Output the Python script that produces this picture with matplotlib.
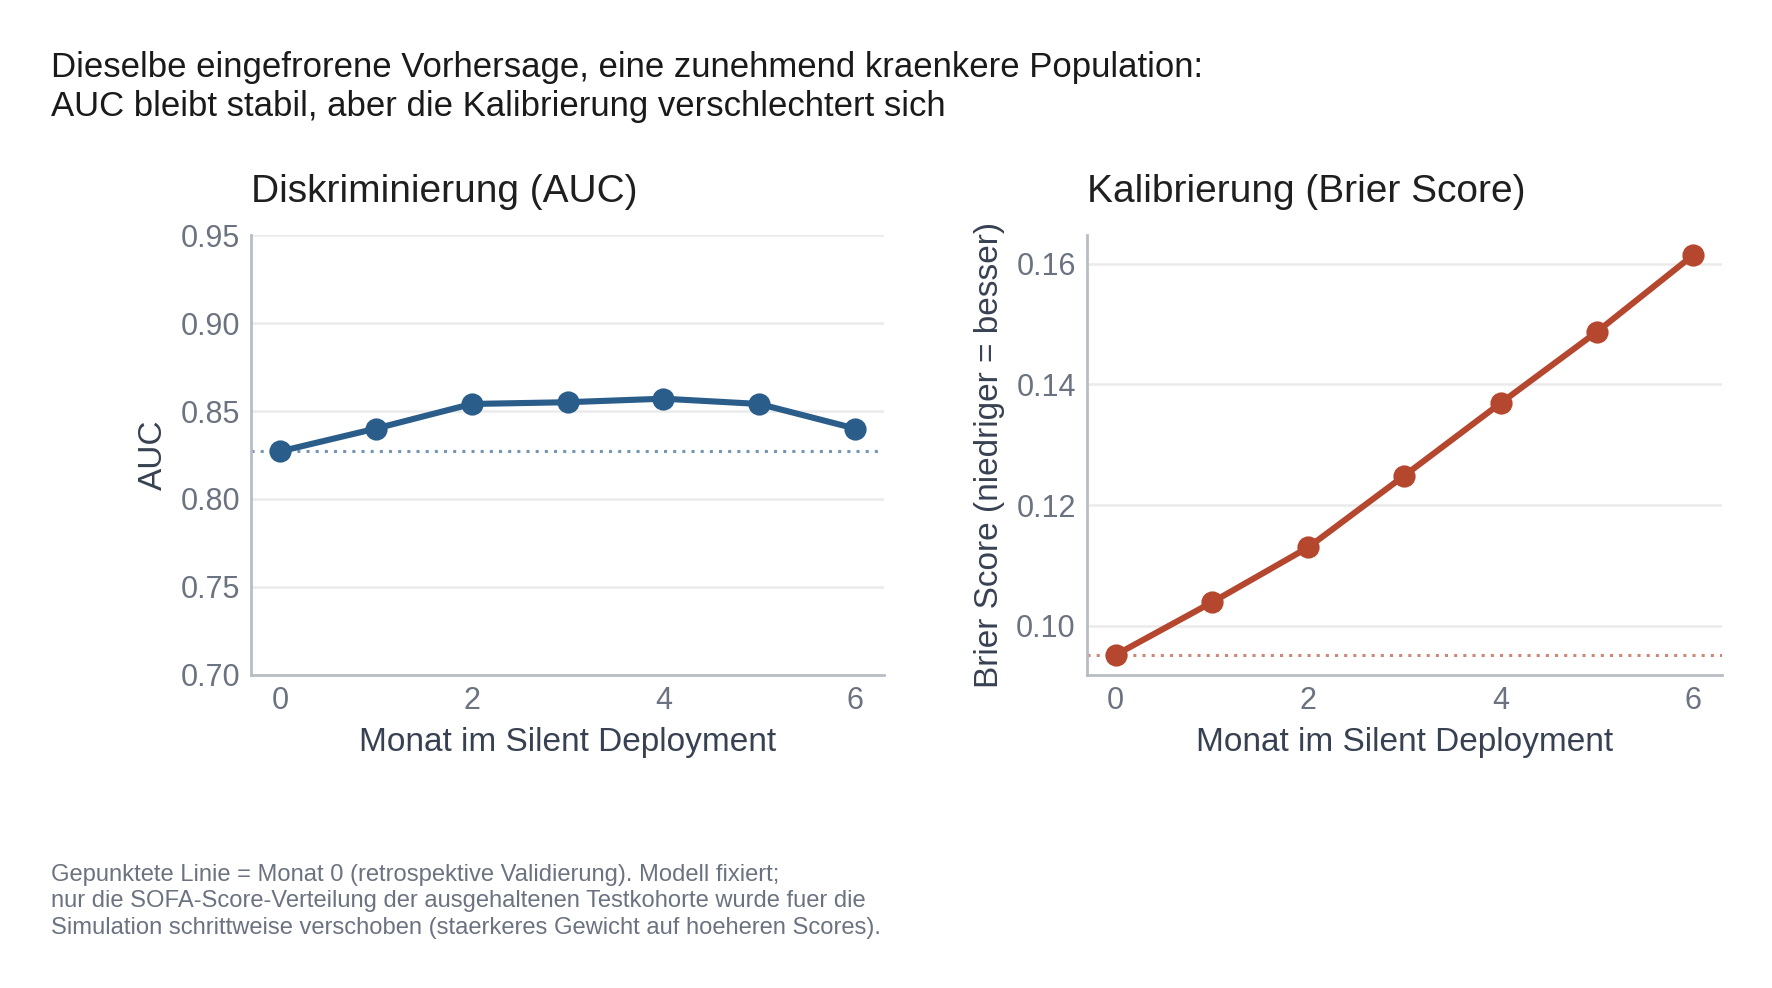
"""
Silent Deployment: AUC vs. Brier Score ueber die Monate
"""

import matplotlib
matplotlib.use("Agg")
import matplotlib.pyplot as plt

# Daten
monate = [0, 1, 2, 3, 4, 5, 6]
auc = [0.827, 0.840, 0.854, 0.855, 0.857, 0.854, 0.840]
brier = [0.0952, 0.1039, 0.1130, 0.1249, 0.1369, 0.1487, 0.1614]

titel = ("Dieselbe eingefrorene Vorhersage, eine zunehmend kraenkere Population:\n"
         "AUC bleibt stabil, aber die Kalibrierung verschlechtert sich")
fussnote = ("Gepunktete Linie = Monat 0 (retrospektive Validierung). Modell fixiert;\n"
            "nur die SOFA-Score-Verteilung der ausgehaltenen Testkohorte wurde fuer die\n"
            "Simulation schrittweise verschoben (staerkeres Gewicht auf hoeheren Scores).")

BLAU = "#2b5d8a"
ROT = "#b5472e"
TICK_GRAU = "#6b7280"
LABEL_GRAU = "#374151"
SPINE_GRAU = "#b8bcc4"
GRID_GRAU = "#ebebeb"

plt.rcParams["font.family"] = ["Liberation Sans", "DejaVu Sans"]

fig = plt.figure(figsize=(8.86, 4.94), dpi=200)
ax1 = fig.add_axes([0.1417, 0.317, 0.3572, 0.445])
ax2 = fig.add_axes([0.6134, 0.317, 0.3584, 0.445])


def style_axes(ax):
    for s in ("top", "right"):
        ax.spines[s].set_visible(False)
    for s in ("left", "bottom"):
        ax.spines[s].set_color(SPINE_GRAU)
        ax.spines[s].set_linewidth(1.0)
    ax.tick_params(length=0, labelsize=11, labelcolor=TICK_GRAU, pad=4)
    ax.yaxis.grid(True, color=GRID_GRAU, linewidth=0.9)
    ax.set_axisbelow(True)
    ax.set_xticks([0, 2, 4, 6])
    ax.set_xlabel("Monat im Silent Deployment", fontsize=12, color=LABEL_GRAU, labelpad=4)


# Links: AUC
ax1.plot(monate, auc, color=BLAU, linewidth=2.2, marker="o", markersize=7, zorder=3)
ax1.axhline(auc[0], color=BLAU, alpha=0.65, linewidth=1.1, linestyle=(0, (1, 2)), zorder=2)
ax1.set_ylim(0.70, 0.95)
ax1.set_yticks([0.70, 0.75, 0.80, 0.85, 0.90, 0.95])
ax1.set_yticklabels([f"{v:.2f}" for v in [0.70, 0.75, 0.80, 0.85, 0.90, 0.95]])
ax1.set_ylabel("AUC", fontsize=12, color=LABEL_GRAU, labelpad=4)
ax1.set_title("Diskriminierung (AUC)", loc="left", fontsize=14, color="#1f1f1f", pad=12)
style_axes(ax1)

# Rechts: Brier Score
ax2.plot(monate, brier, color=ROT, linewidth=2.2, marker="o", markersize=7, zorder=3)
ax2.axhline(brier[0], color=ROT, alpha=0.65, linewidth=1.1, linestyle=(0, (1, 2)), zorder=2)
ax2.set_yticks([0.10, 0.12, 0.14, 0.16])
ax2.set_yticklabels([f"{v:.2f}" for v in [0.10, 0.12, 0.14, 0.16]])
ax2.set_ylabel("Brier Score (niedriger = besser)", fontsize=12, color=LABEL_GRAU, labelpad=4)
ax2.set_title("Kalibrierung (Brier Score)", loc="left", fontsize=14, color="#1f1f1f", pad=12)
style_axes(ax2)

fig.text(0.0288, 0.948, titel, ha="left", va="top", fontsize=12.5, color="#1a1a1a", linespacing=1.2)
fig.text(0.0288, 0.126, fussnote, ha="left", va="top", fontsize=8.55, color=TICK_GRAU, linespacing=1.28)

fig.savefig("out.png", dpi=200, facecolor="white")
